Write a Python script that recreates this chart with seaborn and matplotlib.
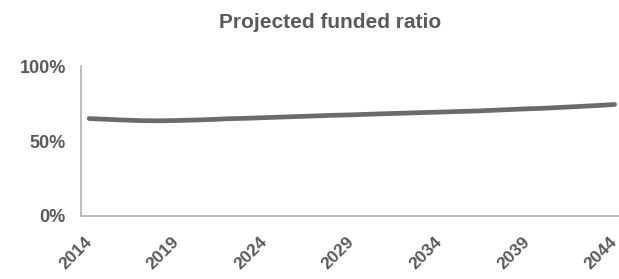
import matplotlib
matplotlib.use('Agg')
import matplotlib.pyplot as plt
import seaborn as sns
import pandas as pd

# 数据
years = list(range(2014, 2045))
funded_ratio = [65.0, 64.5, 64.0, 63.6, 63.5, 63.7, 64.0, 64.4, 64.9, 65.2,
                65.6, 66.0, 66.4, 66.8, 67.2, 67.5, 67.9, 68.3, 68.6, 69.0,
                69.3, 69.7, 70.0, 70.5, 71.0, 71.5, 71.9, 72.5, 73.1, 73.7, 74.4]
x_ticks = [2014, 2019, 2024, 2029, 2034, 2039, 2044]
y_ticks = [0, 50, 100]
title = 'Projected funded ratio'

sns.set_theme(style='white')
plt.rcParams['font.family'] = ['Liberation Sans', 'DejaVu Sans']

df = pd.DataFrame({'year': years, 'ratio': funded_ratio})

text_color = '#5a5a5a'
fig = plt.figure(figsize=(6.19, 2.79), dpi=100)
ax = fig.add_axes([0.131, 0.226, 0.869, 0.537])

sns.lineplot(data=df, x='year', y='ratio', ax=ax, color='#6b6b6b', linewidth=3.4)

ax.set_xlim(2013.54, 2044.25)
ax.set_ylim(0, 100)
ax.set_xticks(x_ticks)
ax.set_xticklabels([str(y) for y in x_ticks], rotation=45, ha='right', va='center',
                   rotation_mode='anchor', fontsize=12.5, fontweight='bold', color=text_color)
ax.set_yticks(y_ticks)
ax.set_yticklabels([f'{v}%' for v in y_ticks], fontsize=13, fontweight='bold', color=text_color)
ax.tick_params(axis='both', length=0)
ax.tick_params(axis='x', pad=17)
ax.tick_params(axis='y', pad=11)
ax.set_xlabel('')
ax.set_ylabel('')

for side in ['top', 'right']:
    ax.spines[side].set_visible(False)
for side in ['left', 'bottom']:
    ax.spines[side].set_color('#b0b0b0')
    ax.spines[side].set_linewidth(1.2)

fig.text(0.533, 0.90, title, ha='center', va='baseline', fontsize=15,
         fontweight='bold', color=text_color)

fig.savefig('out.png', dpi=100)
